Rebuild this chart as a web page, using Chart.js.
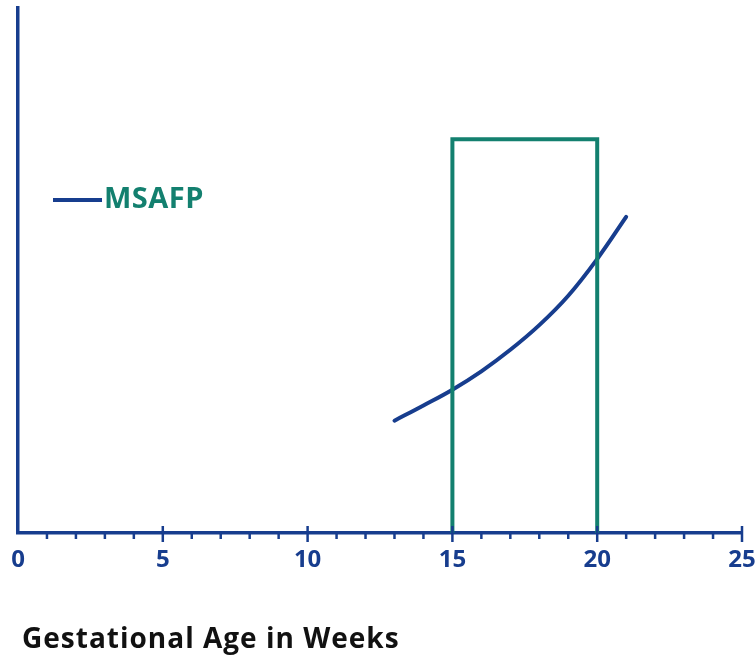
<!DOCTYPE html>
<html lang="en">
<head>
<meta charset="UTF-8">
<title>MSAFP by Gestational Age</title>
<script src="https://cdn.jsdelivr.net/npm/chart.js"></script>
<style>
  html, body { margin: 0; padding: 0; background: #fff; }
  #wrap { width: 756px; height: 656px; }
</style>
</head>
<body>
<div id="wrap"><canvas id="chart" width="756" height="656"></canvas></div>
<script>
  // curve (y on a 0-100 scale, no y labels shown)
  const weeks = [13, 14, 15, 16, 17, 18, 19, 20, 21];
  const msafp = [21.4, 24.3, 27.3, 30.8, 34.9, 39.6, 45.2, 52.2, 60.2];
  // screening window box
  const windowWeeks = [15, 15, 20, 20];
  const windowLevel = [0, 75, 75, 0];
  const tickLabels = ['0', '5', '10', '15', '20', '25'];
  const axisTitle = 'Gestational Age in Weeks';

  const navy = '#173d8e';
  const teal = '#13806f';

  // small ticks every week, long ones every 5 weeks
  const tickMarks = {
    id: 'tickMarks',
    afterDraw(chart) {
      const ctx = chart.ctx;
      const xs = chart.scales.x;
      const y0 = chart.chartArea.bottom;
      ctx.save();
      ctx.strokeStyle = navy;
      ctx.lineWidth = 2.5;
      for (let w = 1; w <= 25; w++) {
        const px = xs.getPixelForValue(w);
        ctx.beginPath();
        if (w % 5 === 0) {
          ctx.moveTo(px, y0 - 7);
          ctx.lineTo(px, y0 + 9);
        } else {
          ctx.moveTo(px, y0);
          ctx.lineTo(px, y0 + 6);
        }
        ctx.stroke();
      }
      ctx.restore();
    }
  };

  // key at left and the axis title
  const extraText = {
    id: 'extraText',
    afterDraw(chart) {
      const ctx = chart.ctx;
      const ds = chart.data.datasets[1];
      ctx.save();
      ctx.strokeStyle = ds.borderColor;
      ctx.lineWidth = 4;
      ctx.beginPath();
      ctx.moveTo(53, 200);
      ctx.lineTo(102, 200);
      ctx.stroke();
      ctx.fillStyle = teal;
      ctx.font = 'bold 29px "Open Sans"';
      ctx.letterSpacing = '0.5px';
      ctx.textBaseline = 'middle';
      ctx.fillText(ds.label, 104, 200);

      ctx.fillStyle = '#111';
      ctx.font = 'bold 28px "Open Sans"';
      ctx.letterSpacing = '1px';
      ctx.textBaseline = 'alphabetic';
      ctx.fillText(axisTitle, 22, 648);
      ctx.restore();
    }
  };

  new Chart(document.getElementById('chart'), {
    type: 'line',
    data: {
      datasets: [
        {
          label: 'window',
          data: windowWeeks.map((w, i) => ({ x: w, y: windowLevel[i] })),
          borderColor: teal,
          borderWidth: 4,
          pointRadius: 0,
          tension: 0,
          fill: false,
          order: 0
        },
        {
          label: 'MSAFP',
          data: weeks.map((w, i) => ({ x: w, y: msafp[i] })),
          borderColor: navy,
          borderWidth: 4,
          pointRadius: 0,
          tension: 0.4,
          borderCapStyle: 'round',
          fill: false,
          order: 1
        }
      ]
    },
    options: {
      responsive: false,
      animation: false,
      layout: { padding: { top: 8, left: 18, right: 14, bottom: 10 } },
      plugins: { legend: { display: false }, tooltip: { enabled: false } },
      scales: {
        x: {
          type: 'linear',
          min: 0,
          max: 25,
          afterFit: s => { s.height = 113; s.paddingLeft = 0; s.paddingRight = 0; },
          grid: { drawOnChartArea: false, drawTicks: false },
          border: { display: true, color: navy, width: 3.5 },
          ticks: {
            stepSize: 1,
            autoSkip: false,
            maxRotation: 0,
            padding: 13,
            color: navy,
            font: { family: 'Open Sans', weight: 'bold', size: 24 },
            callback: v => tickLabels.includes(String(v)) ? String(v) : ''
          }
        },
        y: {
          min: 0,
          max: 100,
          afterFit: s => { s.width = 0; },
          grid: { drawOnChartArea: false, drawTicks: false },
          border: { display: true, color: navy, width: 3.5 },
          ticks: { display: false }
        }
      }
    },
    plugins: [tickMarks, extraText]
  });
</script>
</body>
</html>
